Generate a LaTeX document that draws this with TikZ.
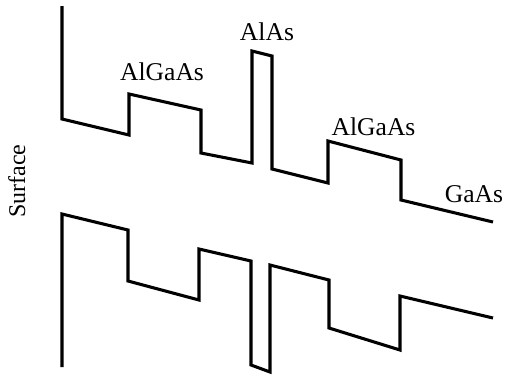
\documentclass[tikz,border=0pt]{standalone}
\usepackage{fontspec}
\setmainfont{Liberation Serif}
\begin{document}
\begin{tikzpicture}[x=0.75pt,y=-0.75pt,
  band/.style={line width=2.3pt,line join=miter,black},
  lbl/.style={inner sep=0pt,anchor=base,font=\fontsize{19.2}{21}\selectfont}]
\useasboundingbox (0,0) rectangle (507,376);
% conduction band
\draw[band] (62,6) -- (62,119) -- (129,135) -- (129,94) -- (201,110) -- (201,153)
  -- (252,163) -- (252,51) -- (272,56) -- (272,169) -- (328,183) -- (328,141)
  -- (401,160) -- (401,200) -- (493,222);
% valence band
\draw[band] (62,367) -- (62,214) -- (128,230) -- (128,281) -- (199,300) -- (199,249)
  -- (251,261) -- (251,365) -- (270,372) -- (270,265) -- (329,280) -- (329,328)
  -- (400,350) -- (400,296) -- (493,318);
% labels
\node[lbl] (l1) at (162,80) {AlGaAs};
\node[lbl] (l2) at (267,40) {AlAs};
\node[lbl] (l3) at (373.5,135) {AlGaAs};
\node[lbl] (l4) at (474,202) {GaAs};
\node[lbl,rotate=90,font=\fontsize{18}{20}\selectfont] (l5) at (25,181) {Surface};
\end{tikzpicture}
\end{document}
